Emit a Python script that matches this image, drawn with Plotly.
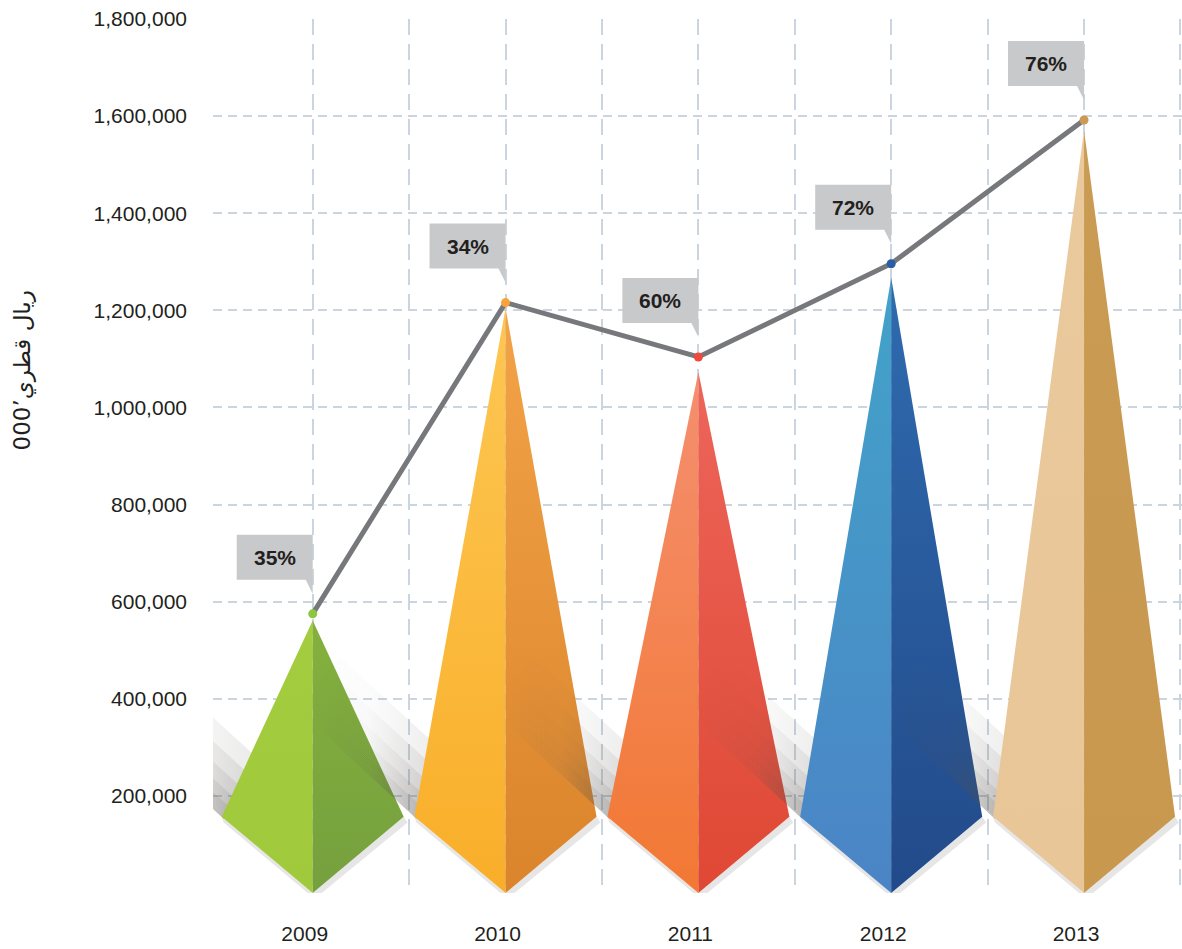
import plotly.graph_objects as go

# ---------------- data ----------------
years = ["2009", "2010", "2011", "2012", "2013"]
totals = [575000, 1216000, 1104000, 1296000, 1592000]          # line points
pyramid_tops = [561000, 1205000, 1073000, 1267000, 1571000]    # pyramid apexes
growth_labels = ["35%", "34%", "60%", "72%", "76%"]
y_tick_values = [0, 200000, 400000, 600000, 800000, 1000000,
                 1200000, 1400000, 1600000, 1800000]
y_title = "000\u2019ريال قطري"

# ---------------- styles ----------------
left_top = ["#A3CC3F", "#FDC753", "#F58F70", "#42A3C9", "#EAC99C"]
left_bottom = ["#A0C93C", "#F9AE29", "#F27833", "#4B84C6", "#E8C698"]
right_top = ["#84B13D", "#F3A347", "#ED655A", "#2F6BAF", "#CA9B53"]
right_bottom = ["#75A03E", "#DA842C", "#DF4834", "#224A8A", "#C8984F"]
dot_colors = ["#8DC63F", "#F7A23A", "#EF4A3B", "#2B5DA6", "#CB9A55"]

HALF_W = 0.472        # half width of a pyramid (category units)
MID_Y = 157000        # height of the widest point
FONT = "Liberation Sans, Arial, Helvetica, sans-serif"
TEXT_C = "#231F20"
GRID_C = "#CBD5DF"
BOX_C = "#C8C9CB"
LINE_C = "#77787B"
CALLOUT_GAP = 34      # px between point and callout box
BOX_W, BOX_H = 76, 45
SHADOW_DIR = (-0.55, 200000)       # streak direction (up-left)
SHADOW_PERP = (0.18, 74000)        # perpendicular offset unit
SHADOW_LAYERS = [0.25, 0.45, 0.7, 1.0, 1.35]

xs = list(range(len(years)))

fig = go.Figure()

for i, c in enumerate(xs):
    L = c - HALF_W
    # soft diagonal cast shadow (stacked translucent bands = blur)
    for f in SHADOW_LAYERS:
        ox, oy = SHADOW_PERP[0] * f, SHADOW_PERP[1] * f
        dx, dy = SHADOW_DIR[0] * (0.8 + 0.25 * f), SHADOW_DIR[1] * (0.8 + 0.25 * f)
        fig.add_trace(go.Scatter(
            x=[L + 0.01, L + dx, L + dx + ox, L + ox, L + 0.01],
            y=[MID_Y - 4000, MID_Y + dy, MID_Y + dy + oy, MID_Y + oy, MID_Y - 4000],
            mode="lines", fill="toself",
            line=dict(width=0, color="rgba(0,0,0,0)"),
            fillgradient=dict(type="horizontal",
                              colorscale=[[0, "rgba(90,85,80,0)"],
                                          [0.45, "rgba(90,85,80,0.02)"],
                                          [0.8, "rgba(80,75,70,0.09)"],
                                          [1, "rgba(70,65,60,0.12)"]]),
            hoverinfo="skip", showlegend=False))
    # soft shadow under the lower edges
    fig.add_trace(go.Scatter(
        x=[L, c, c + HALF_W, c + HALF_W + 0.02, c + 0.01, L + 0.01, L],
        y=[MID_Y, 0, MID_Y, MID_Y - 12000, -12000, MID_Y - 12000, MID_Y],
        mode="lines", fill="toself",
        line=dict(width=0, color="rgba(0,0,0,0)"),
        fillcolor="rgba(60,60,70,0.13)",
        hoverinfo="skip", showlegend=False))
    # left face
    fig.add_trace(go.Scatter(
        x=[c, L, c, c], y=[pyramid_tops[i], MID_Y, 0, pyramid_tops[i]],
        mode="lines", fill="toself",
        line=dict(width=0, color="rgba(0,0,0,0)"),
        fillgradient=dict(type="vertical",
                          colorscale=[[0, left_bottom[i]], [1, left_top[i]]]),
        hoverinfo="skip", showlegend=False))
    # right face
    fig.add_trace(go.Scatter(
        x=[c, c + HALF_W, c, c], y=[pyramid_tops[i], MID_Y, 0, pyramid_tops[i]],
        mode="lines", fill="toself",
        line=dict(width=0, color="rgba(0,0,0,0)"),
        fillgradient=dict(type="vertical",
                          colorscale=[[0, right_bottom[i]], [1, right_top[i]]]),
        hoverinfo="skip", showlegend=False))

# line with coloured points
fig.add_trace(go.Scatter(
    x=xs, y=totals, mode="lines+markers",
    line=dict(color=LINE_C, width=5),
    marker=dict(color=dot_colors, size=9, line=dict(width=0)),
    cliponaxis=False, hoverinfo="skip", showlegend=False))

# callouts
shapes = []
annotations = []
g = CALLOUT_GAP
path = (f"M {-BOX_W},{g} L {-BOX_W},{g + BOX_H} L 0,{g + BOX_H} "
        f"L 0,{g - 14} L -7,{g} Z")
for i, c in enumerate(xs):
    shapes.append(dict(type="path", xref="x", yref="y",
                       xsizemode="pixel", ysizemode="pixel",
                       xanchor=c, yanchor=totals[i], path=path,
                       fillcolor=BOX_C, line=dict(width=0), layer="above"))
    annotations.append(dict(x=c, y=totals[i], xref="x", yref="y",
                            text=f"<b>{growth_labels[i]}</b>", showarrow=False,
                            xanchor="center", yanchor="middle",
                            xshift=-BOX_W / 2, yshift=g + BOX_H / 2,
                            font=dict(family=FONT, size=21, color=TEXT_C)))

annotations.append(dict(x=-0.197, y=0.598, xref="paper", yref="paper",
                        text=y_title, textangle=-90, showarrow=False,
                        xanchor="center", yanchor="middle",
                        font=dict(family="DejaVu Sans", size=23, color=TEXT_C)))

x_grid_vals = [v / 2 for v in range(2 * len(years))]
x_grid_text = [years[int(v)] if v == int(v) else "" for v in x_grid_vals]

fig.update_layout(
    width=1182, height=949,
    margin=dict(l=213, r=0, t=19, b=56),
    paper_bgcolor="white", plot_bgcolor="white",
    showlegend=False,
    shapes=shapes, annotations=annotations,
    xaxis=dict(range=[-0.517, 4.508], tickvals=x_grid_vals, ticktext=x_grid_text,
               showgrid=True, gridcolor=GRID_C, gridwidth=2, griddash="16px,9px",
               zeroline=False, showline=False, ticks="",
               tickfont=dict(family=FONT, size=21, color=TEXT_C),
               ticklabelstandoff=26, ticklabelshift=-8, fixedrange=True),
    yaxis=dict(range=[0, 1800000], tickvals=y_tick_values,
               ticktext=["" if v == 0 else f"{v:,}" for v in y_tick_values],
               showgrid=True, gridcolor=GRID_C, gridwidth=2, griddash="9px,6px",
               zeroline=False, showline=False, ticks="",
               tickfont=dict(family=FONT, size=21, color=TEXT_C),
               ticklabelstandoff=25, fixedrange=True),
)

fig.write_html("out.html",
               config={"displayModeBar": False},
               post_script="document.body.style.margin='0';"
                           "document.body.style.overflow='hidden';")
